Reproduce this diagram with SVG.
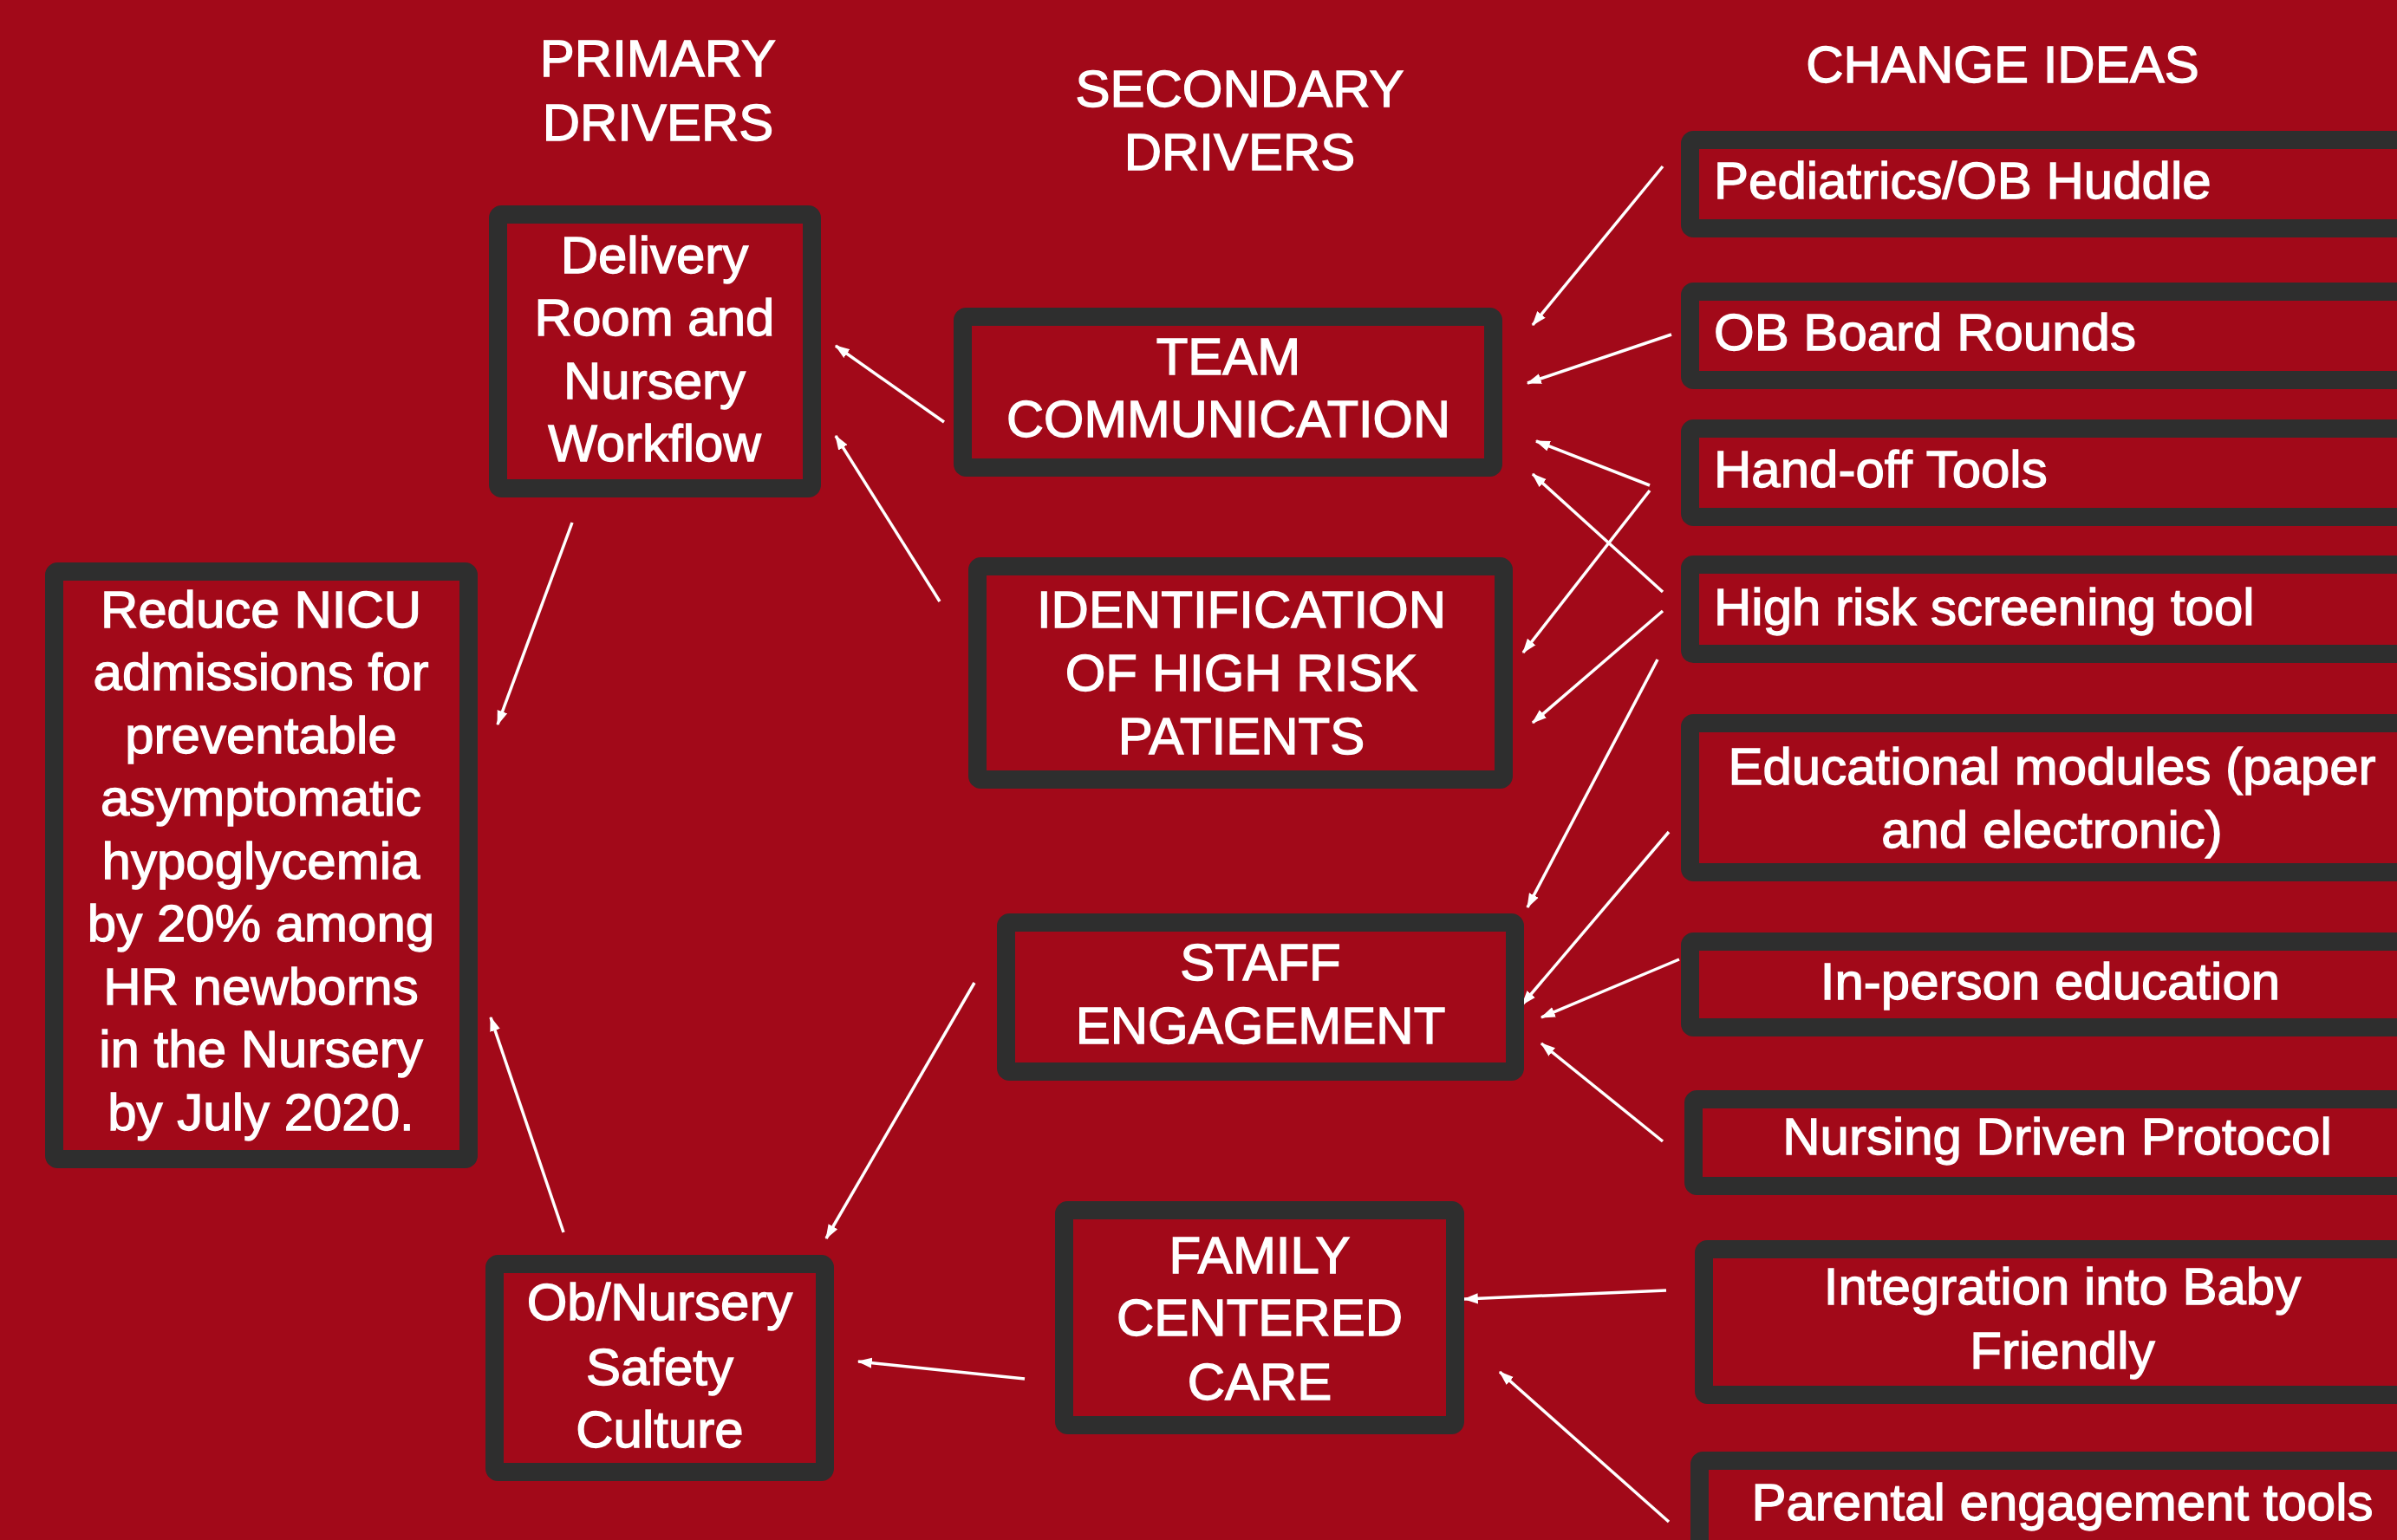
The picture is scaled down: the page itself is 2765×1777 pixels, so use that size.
<svg xmlns="http://www.w3.org/2000/svg" width="2765" height="1777" viewBox="0 0 2765 1777">
<defs>
<style>
.bg{fill:#A20919}
.box{fill:#A20919;stroke:#2E2E2E;stroke-width:21}
.t{font-family:"Liberation Sans",Arial,sans-serif;font-size:60px;fill:#FFFFFF;stroke:#FFFFFF;stroke-width:1.3;text-anchor:middle}
.tl{font-family:"Liberation Sans",Arial,sans-serif;font-size:60px;fill:#FFFFFF;stroke:#FFFFFF;stroke-width:1.3;text-anchor:start}
.c{stroke:#FFFFFF;stroke-width:3.5;fill:none;marker-end:url(#ah)}
</style>
<marker id="ah" markerUnits="userSpaceOnUse" viewBox="0 0 14 10" markerWidth="17" markerHeight="13" refX="13" refY="5" orient="auto">
<path d="M0,0 L14,5 L0,10 z" fill="#FFFFFF"/>
</marker>
</defs>
<rect class="bg" x="0" y="0" width="2765" height="1777"/>

<g id="headers">
<text class="t" x="759" y="88">PRIMARY</text>
<text class="t" x="759" y="162">DRIVERS</text>
<text class="t" x="1430" y="123">SECONDARY</text>
<text class="t" x="1430" y="196">DRIVERS</text>
<text class="t" x="2310" y="95">CHANGE IDEAS</text>
</g>

<g id="connectors">
<line class="c" x1="1089" y1="487" x2="964" y2="399"/>
<line class="c" x1="1084" y1="694" x2="964" y2="503"/>
<line class="c" x1="660" y1="603" x2="574" y2="836"/>
<line class="c" x1="650" y1="1422" x2="566" y2="1174"/>
<line class="c" x1="1124" y1="1134" x2="953" y2="1429"/>
<line class="c" x1="1182" y1="1591" x2="990" y2="1571"/>
<line class="c" x1="1918" y1="192" x2="1768" y2="375"/>
<line class="c" x1="1928" y1="386" x2="1762" y2="442"/>
<line class="c" x1="1903" y1="560" x2="1772" y2="509"/>
<line class="c" x1="1903" y1="566" x2="1757" y2="753"/>
<line class="c" x1="1918" y1="683" x2="1768" y2="547"/>
<line class="c" x1="1918" y1="705" x2="1768" y2="834"/>
<line class="c" x1="1912" y1="761" x2="1762" y2="1047"/>
<line class="c" x1="1925" y1="960" x2="1756" y2="1159"/>
<line class="c" x1="1937" y1="1107" x2="1778" y2="1174"/>
<line class="c" x1="1918" y1="1317" x2="1778" y2="1204"/>
<line class="c" x1="1922" y1="1489" x2="1689" y2="1499"/>
<line class="c" x1="1925" y1="1756" x2="1730" y2="1583"/>
</g>

<g id="aim">
<rect class="box" x="62.5" y="659.5" width="478" height="678" rx="4"/>
<text class="t" x="301" y="724">Reduce NICU</text>
<text class="t" x="301" y="796">admissions for</text>
<text class="t" x="301" y="869">preventable</text>
<text class="t" x="301" y="941">asymptomatic</text>
<text class="t" x="301" y="1014">hypoglycemia</text>
<text class="t" x="301" y="1086">by 20% among</text>
<text class="t" x="301" y="1159">HR newborns</text>
<text class="t" x="301" y="1231">in the Nursery</text>
<text class="t" x="301" y="1304">by July 2020.</text>
</g>

<g id="p-delivery">
<rect class="box" x="574.5" y="247.5" width="362" height="316" rx="4"/>
<text class="t" x="755" y="315">Delivery</text>
<text class="t" x="755" y="387">Room and</text>
<text class="t" x="755" y="460">Nursery</text>
<text class="t" x="755" y="532">Workflow</text>
</g>

<g id="p-safety">
<rect class="box" x="570.5" y="1458.5" width="381" height="240" rx="4"/>
<text class="t" x="761" y="1523">Ob/Nursery</text>
<text class="t" x="761" y="1598">Safety</text>
<text class="t" x="761" y="1670">Culture</text>
</g>

<g id="s-team">
<rect class="box" x="1110.5" y="365.5" width="612" height="174" rx="4"/>
<text class="t" x="1417" y="432">TEAM</text>
<text class="t" x="1417" y="504" textLength="512" lengthAdjust="spacingAndGlyphs">COMMUNICATION</text>
</g>

<g id="s-ident">
<rect class="box" x="1127.5" y="653.5" width="607" height="246" rx="4"/>
<text class="t" x="1432" y="724">IDENTIFICATION</text>
<text class="t" x="1432" y="797">OF HIGH RISK</text>
<text class="t" x="1432" y="870">PATIENTS</text>
</g>

<g id="s-staff">
<rect class="box" x="1160.5" y="1064.5" width="587" height="172" rx="4"/>
<text class="t" x="1454" y="1131">STAFF</text>
<text class="t" x="1454" y="1204">ENGAGEMENT</text>
</g>

<g id="s-family">
<rect class="box" x="1227.5" y="1396.5" width="451" height="248" rx="4"/>
<text class="t" x="1453" y="1469">FAMILY</text>
<text class="t" x="1453" y="1541">CENTERED</text>
<text class="t" x="1453" y="1615">CARE</text>
</g>

<g id="c-huddle">
<rect class="box" x="1949.5" y="161.5" width="900" height="102" rx="4"/>
<text class="tl" x="1977" y="229">Pediatrics/OB Huddle</text>
</g>
<g id="c-rounds">
<rect class="box" x="1949.5" y="336.5" width="900" height="102" rx="4"/>
<text class="tl" x="1977" y="404">OB Board Rounds</text>
</g>
<g id="c-handoff">
<rect class="box" x="1949.5" y="494.5" width="900" height="102" rx="4"/>
<text class="tl" x="1977" y="562">Hand-off Tools</text>
</g>
<g id="c-screening">
<rect class="box" x="1949.5" y="651.5" width="900" height="103" rx="4"/>
<text class="tl" x="1977" y="721">High risk screening tool</text>
</g>
<g id="c-modules">
<rect class="box" x="1949.5" y="834.5" width="900" height="172" rx="4"/>
<text class="t" x="2367" y="905">Educational modules (paper</text>
<text class="t" x="2367" y="978">and electronic)</text>
</g>
<g id="c-inperson">
<rect class="box" x="1949.5" y="1086.5" width="900" height="99" rx="4"/>
<text class="t" x="2365" y="1153">In-person education</text>
</g>
<g id="c-protocol">
<rect class="box" x="1953.5" y="1268.5" width="900" height="100" rx="4"/>
<text class="t" x="2373" y="1332">Nursing Driven Protocol</text>
</g>
<g id="c-babyfriendly">
<rect class="box" x="1965.5" y="1441.5" width="900" height="168" rx="4"/>
<text class="t" x="2379" y="1505">Integration into Baby</text>
<text class="t" x="2379" y="1579">Friendly</text>
</g>
<g id="c-parental">
<rect class="box" x="1960.5" y="1685.5" width="900" height="150" rx="4"/>
<text class="t" x="2379" y="1754">Parental engagement tools</text>
</g>
</svg>
